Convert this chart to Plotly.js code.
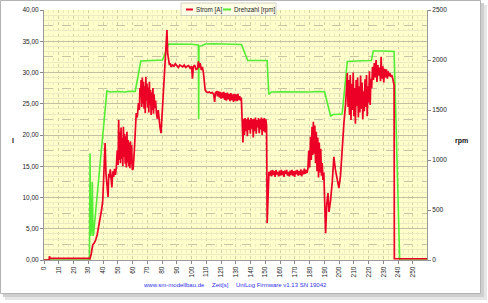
<!DOCTYPE html>
<html>
<head>
<meta charset="utf-8">
<script src="https://cdn.plot.ly/plotly-3.0.1.min.js"></script>
<style>html,body{margin:0;padding:0;background:#fff;}#chart{width:488px;height:303px;}</style>
</head>
<body>
<div id="chart"></div>
<script>
// Zeit [s] for current samples
const tStrom = [0,3.5,3.7,4.2,30.5,31.2,32,33,34,35,36,37,38,39,39.8,40.4,41,41.4,42,42.6,43.4,43.9,44.4,44.9,45.4,46,46.6,47.2,47.8,48.4,49,49.6,50.2,50.6,51,51.4,51.8,52.2,52.6,53,53.4,53.8,54.2,54.6,55,55.4,55.8,56.2,56.6,57,57.4,57.8,58.2,58.6,59,59.4,59.8,60.4,61.2,61.8,62.5,63.2,64,64.6,65,65.4,65.8,66.2,66.6,67,67.4,67.8,68.2,68.6,69,69.4,69.8,70.2,70.6,71,71.4,71.8,72.2,72.6,73,73.4,73.8,74.2,74.6,75,75.6,76.2,76.8,77.4,78,78.6,79.3,80.4,81.2,82,82.8,83.3,83.8,84.4,85,85.5,86,87,88,89,90,91,92,93,94,95,96,97,98,99,100,100.6,101.2,102,103,104,104.6,105.2,105.8,106.6,107.3,108,108.6,109.2,110,111,112,113,114,115,115.6,116.2,117,117.6,118.2,118.8,119.4,120,120.6,121.2,121.8,122.4,123,123.6,124.2,124.8,125.4,126,126.6,127.2,127.8,128.4,129,129.6,130.2,130.8,131.4,132,132.6,133.2,133.7,134.2,134.8,135.3,135.8,136.3,136.8,137.3,137.8,138.3,138.8,139.3,139.8,140.3,140.8,141.3,141.8,142.3,142.8,143.3,143.8,144.3,144.8,145.3,145.8,146.3,146.8,147.3,147.8,148.3,148.8,149.3,149.8,150.3,150.8,151.2,151.8,152.4,153,153.6,154.2,154.8,155.4,156,156.6,157.2,157.8,158.4,159,159.6,160.2,160.8,161.4,162,162.6,163.2,163.8,164.4,165,165.6,166.2,166.8,167.4,168,168.6,169.2,169.8,170.4,171,171.6,172.2,172.8,173.4,174,174.6,175.2,175.8,176.4,177,177.6,178.2,178.8,179.4,180,180.6,181.1,181.6,182.1,182.5,183,183.5,184,184.5,185,185.5,186,186.5,187,187.5,188,188.5,189,189.6,190.2,190.8,191.6,192.4,193.1,194.2,195.3,196.4,197.4,198.7,199.8,200.9,202.1,203.2,204.4,205.5,206,206.5,207,207.5,208,208.5,209,209.5,210,210.5,211,211.5,212,212.5,213,213.5,214,214.5,215,215.5,216,216.5,217,217.5,218,218.5,219,219.5,220,220.5,221,221.5,222,222.6,223.2,223.8,224.4,225,225.6,226.2,226.8,227.4,228,228.4,229,229.6,230.2,230.8,231.4,232,232.6,233.2,233.8,234.4,235,235.6,236.2,236.8,237.2,237.4,260];
// Strom [A]
const strom = [0,0,0.6,0.3,0.25,0.2,1.0,2.4,2.7,3.2,4.0,5.2,6.2,8.0,9.5,13.9,15.5,18.7,13.8,12.5,10.1,13.8,13.2,14.5,13.4,11.6,14.2,13.3,14.6,13.6,14.8,17.5,15.2,22.4,16.0,20.5,15.5,21.2,16.2,19.5,15.0,21.3,16.5,20.2,15.4,19.8,14.8,20.5,15.6,19.2,15.0,18.8,14.7,19.0,15.3,18.4,14.4,14.6,17.5,21.0,23.5,22.8,25.1,24.0,27.5,26.1,28.8,24.5,29.2,25.0,28.5,24.2,27.8,23.5,29.3,25.5,28.2,24.4,27.6,23.6,28.5,24.8,27.2,23.2,26.8,24.0,27.5,23.4,26.5,24.3,25.5,23.5,22.6,24.0,22.4,21.2,20.3,25.1,28.0,30.4,33.5,36.8,33.0,32.0,31.2,31.5,30.9,31.2,31.0,31.4,31.1,30.8,31.2,31.0,30.9,31.2,30.8,31.0,31.1,30.7,31.0,29.0,30.9,31.2,30.5,30.6,31.8,30.8,31.5,30.4,30.9,30.0,28.0,27.2,26.9,26.8,26.9,26.7,26.8,26.5,25.3,26.8,26.9,26.2,27.0,26.0,26.9,25.8,26.8,25.9,26.9,25.6,26.7,25.5,26.8,25.7,26.6,25.4,26.7,25.6,26.5,25.3,26.6,25.5,26.5,25.4,26.6,25.6,26.2,25.5,26.0,22.4,18.8,22.6,20.0,22.7,20.6,22.5,19.8,22.8,20.8,22.4,20.2,22.7,21.0,22.5,19.6,22.6,20.6,22.8,20.2,22.4,21.2,22.7,20.3,22.5,20.9,22.8,20.0,22.6,20.6,22.7,20.4,22.5,21.5,5.9,10.0,14.1,13.5,14.3,13.4,14.4,13.6,14.2,13.3,14.4,13.7,14.1,13.4,14.3,13.5,14.4,13.6,14.2,13.3,14.3,13.8,14.4,13.5,14.1,13.4,14.3,13.6,14.4,13.5,14.2,13.3,14.3,13.7,14.4,13.5,14.2,13.6,14.5,13.4,14.3,13.7,14.6,13.8,14.4,13.9,14.6,17.5,14.8,19.7,16.0,21.3,16.8,22.1,17.0,21.5,15.5,20.5,14.2,19.6,13.2,18.8,14.0,17.8,13.5,15.5,12.8,14.0,9.6,4.3,9.0,10.7,7.7,9.6,12.5,16.5,14.5,12.5,11.5,13.5,18.5,21.9,25.1,29.9,24.5,28.8,23.2,29.6,22.4,28.2,24.0,30.0,23.0,27.5,21.8,28.8,24.6,29.2,22.8,27.8,23.6,29.5,24.2,28.4,22.5,27.0,23.8,28.9,24.5,29.6,23.0,27.8,25.2,30.2,24.8,29.0,27.5,30.9,28.8,31.5,29.2,32.0,28.5,31.2,29.5,30.8,28.6,32.5,29.0,31.0,28.4,30.6,29.2,30.5,29.0,30.2,29.4,29.9,29.3,29.6,29.1,28.3,28.0,0.2,0.2];
// Zeit [s] for rpm samples
const tDrehzahl = [0,30.8,31.2,31.6,32.2,32.7,33.2,33.6,42.6,45,50,55,58,61.8,65.6,70,75,80.3,84.4,90,95,100,104.6,104.8,105,107,109.3,115,120,125,130,133.8,138,145,151.2,152.3,154,160,165,170,175,180,185,190.1,194.2,196,200,202,205.5,210,215,221.8,223.1,230,237.2,241,260];
// Drehzahl [rpm]
const drehzahl = [0,0,1067,240,300,783,240,260,1690,1680,1685,1680,1688,1685,1990,1995,1995,2000,2160,2160,2158,2157,2150,1407,2140,2142,2160,2162,2160,2158,2157,2155,1995,1995,1995,1655,1680,1682,1680,1685,1682,1680,1685,1682,1440,1455,1458,1460,1985,1990,1993,1995,2090,2090,2085,0,0];

const seriesNames = ['Strom [A]', 'Drehzahl [rpm]'];
const seriesColors = ['#ec0025', '#52ee33'];
const footerTexts = ['www.sm-modellbau.de', 'Zeit[s]', 'UniLog Firmware v1.13 SN 19042'];

const FONT = 'Liberation Sans, Arial, sans-serif';
// plot area in pixels: x 44..427, y 10..260
const PL = 44, PR = 427, PT = 10, PB = 260;
const px = X => (X - PL) / (PR - PL);
const py = Y => (PB - Y) / (PB - PT);

// fine grid positions (not coinciding with 2.5 steps)
const fineY = [];
for (let i = 1; i < 48; i++) { if (i % 3 !== 0) fineY.push(i * 2.5 / 3); }

const traces = [
  {x: tDrehzahl, y: drehzahl, type: 'scatter', mode: 'lines', name: seriesNames[1],
   line: {color: seriesColors[1], width: 1.6}, xaxis: 'x', yaxis: 'y', hoverinfo: 'skip'},
  {x: tStrom, y: strom, type: 'scatter', mode: 'lines', name: seriesNames[0],
   line: {color: seriesColors[0], width: 1.7}, xaxis: 'x', yaxis: 'y2', hoverinfo: 'skip'},
  {x: [], y: [], type: 'scatter', mode: 'lines', xaxis: 'x', yaxis: 'y3', showlegend: false, hoverinfo: 'skip'}
];

const tickFont = {family: FONT, size: 6.5, color: '#222'};

const layout = {
  width: 488, height: 303,
  margin: {l: PL, r: 488 - PR, t: PT, b: 303 - PB, pad: 0},
  paper_bgcolor: '#ffffff',
  plot_bgcolor: 'rgba(0,0,0,0)',
  separators: ',.',
  showlegend: false,
  font: {family: FONT, size: 6.5, color: '#222'},
  xaxis: {
    range: [0, 259.5], tick0: 0, dtick: 10, tickangle: -90,
    ticks: 'outside', ticklen: 3, tickcolor: '#888', tickfont: tickFont,
    showgrid: true, gridcolor: '#d3d0a4', griddash: 'dot', gridwidth: 1,
    minor: {dtick: 10/3, tick0: 0, showgrid: true, gridcolor: '#eceac0', gridwidth: 1},
    showline: true, linecolor: '#9a9a9a', zeroline: false, fixedrange: true
  },
  yaxis: {
    range: [0, 2500], dtick: 500, side: 'right',
    ticks: 'outside', ticklen: 3, tickcolor: '#888', tickfont: tickFont,
    showgrid: false, showline: true, linecolor: '#9a9a9a', zeroline: false, fixedrange: true
  },
  yaxis2: {
    overlaying: 'y', side: 'left', range: [0, 40], dtick: 5, tickformat: '.2f',
    ticks: 'outside', ticklen: 3, tickcolor: '#888', tickfont: tickFont,
    showgrid: true, gridcolor: '#c2c0a4', gridwidth: 1,
    minor: {dtick: 2.5, showgrid: true, gridcolor: '#c6c4a4', griddash: 'dash', gridwidth: 1},
    showline: true, linecolor: '#9a9a9a', zeroline: false, fixedrange: true
  },
  yaxis3: {
    overlaying: 'y', side: 'left', range: [0, 40], tickmode: 'array', tickvals: fineY,
    showticklabels: false, ticks: '', showgrid: true, gridcolor: '#eceac0', gridwidth: 1,
    showline: false, zeroline: false, fixedrange: true
  },
  shapes: [
    // soft drop shadow of the chart frame
    {type: 'rect', xref: 'paper', yref: 'paper', layer: 'below',
     x0: px(5), x1: px(487), y0: py(300), y1: py(5), fillcolor: '#e6e6e6', line: {width: 0}},
    {type: 'rect', xref: 'paper', yref: 'paper', layer: 'below',
     x0: px(3), x1: px(484), y0: py(297), y1: py(3), fillcolor: '#cfcfcf', line: {width: 0}},
    // white chart frame
    {type: 'rect', xref: 'paper', yref: 'paper', layer: 'below',
     x0: px(0.5), x1: px(480.5), y0: py(293.5), y1: py(0.5), fillcolor: '#ffffff', line: {color: '#b4b4b4', width: 1}},
    // plot area background
    {type: 'rect', xref: 'paper', yref: 'paper', layer: 'below',
     x0: 0, x1: 1, y0: 0, y1: 1, fillcolor: '#ffffcc', line: {width: 0}},
    // legend box
    {type: 'rect', xref: 'paper', yref: 'paper', layer: 'above',
     x0: px(181), x1: px(276), y0: py(15.5), y1: py(3), fillcolor: '#ffffe6', line: {color: '#d0d0c0', width: 1}},
    {type: 'line', xref: 'paper', yref: 'paper', layer: 'above',
     x0: px(186), x1: px(193), y0: py(9.5), y1: py(9.5), line: {color: seriesColors[0], width: 2}},
    {type: 'line', xref: 'paper', yref: 'paper', layer: 'above',
     x0: px(223), x1: px(231), y0: py(9.5), y1: py(9.5), line: {color: seriesColors[1], width: 2}}
  ],
  annotations: [
    {text: seriesNames[0], xref: 'paper', yref: 'paper', x: px(194), y: py(9.5), xanchor: 'left', yanchor: 'middle',
     showarrow: false, font: {family: FONT, size: 6.3, color: '#222'}},
    {text: seriesNames[1], xref: 'paper', yref: 'paper', x: px(232), y: py(9.5), xanchor: 'left', yanchor: 'middle',
     showarrow: false, font: {family: FONT, size: 6.3, color: '#222'}},
    {text: '<b>I</b>', xref: 'paper', yref: 'paper', x: px(13), y: py(140), xanchor: 'center', yanchor: 'middle',
     showarrow: false, font: {family: FONT, size: 7, color: '#111'}},
    {text: '<b>rpm</b>', xref: 'paper', yref: 'paper', x: px(462), y: py(141), xanchor: 'center', yanchor: 'middle',
     showarrow: false, font: {family: FONT, size: 7, color: '#111'}},
    {text: footerTexts[0], xref: 'paper', yref: 'paper', x: px(174), y: py(285), xanchor: 'center', yanchor: 'middle',
     showarrow: false, font: {family: FONT, size: 6, color: '#3030e8'}},
    {text: footerTexts[1], xref: 'paper', yref: 'paper', x: px(220.5), y: py(285), xanchor: 'center', yanchor: 'middle',
     showarrow: false, font: {family: FONT, size: 6, color: '#3030e8'}},
    {text: footerTexts[2], xref: 'paper', yref: 'paper', x: px(281), y: py(285), xanchor: 'center', yanchor: 'middle',
     showarrow: false, font: {family: FONT, size: 6, color: '#3030e8'}}
  ]
};

Plotly.newPlot('chart', traces, layout, {staticPlot: true, displayModeBar: false});
</script>
</body>
</html>
